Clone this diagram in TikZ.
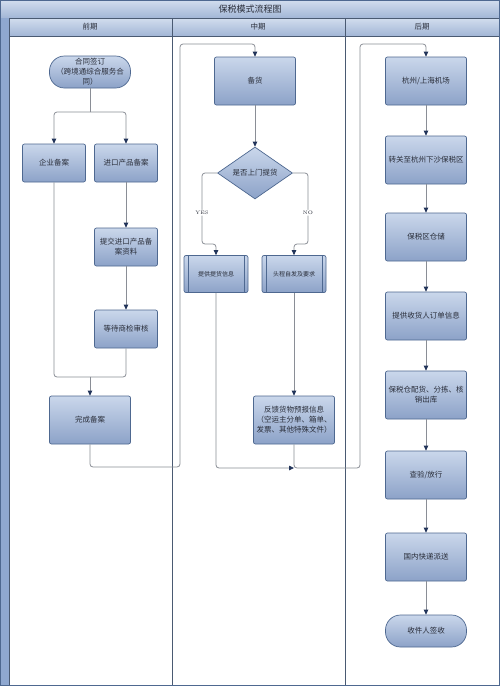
\documentclass[tikz,border=0pt]{standalone}
\usepackage{fontspec}
\newfontfamily\cjk{Noto Sans CJK SC}
\usetikzlibrary{shapes.geometric,arrows.meta}

\definecolor{boxtop}{HTML}{CAD7EB}
\definecolor{boxbot}{HTML}{8CA2C8}
\definecolor{boxline}{HTML}{4E6890}
\definecolor{headtop}{HTML}{D2DDEE}
\definecolor{headbot}{HTML}{A2B6D6}
\definecolor{stripc}{HTML}{8FA8D0}
\definecolor{framec}{HTML}{4A5A72}
\definecolor{linkc}{HTML}{8A8E96}
\definecolor{tipc}{HTML}{22345A}
\definecolor{textc}{HTML}{2A2E3A}

\tikzset{
    box/.style={rectangle, rounded corners=2pt, draw=boxline, line width=0.7pt,
        top color=boxtop, bottom color=boxbot, text=textc, align=center,
        font=\cjk\fontsize{7.5}{10}\selectfont, inner sep=1pt},
    proc/.style={box, minimum width=81pt, minimum height=48pt},
    small/.style={box, minimum width=63pt, minimum height=38pt},
    term/.style={box, rounded corners=15pt, minimum width=81pt, minimum height=32pt},
    sub/.style={box, minimum width=64pt, minimum height=37pt,
        font=\cjk\fontsize{6}{8}\selectfont,
        path picture={
            \draw[boxline, line width=0.6pt]
                ([xshift=4pt]path picture bounding box.north west) --
                ([xshift=4pt]path picture bounding box.south west);
            \draw[boxline, line width=0.6pt]
                ([xshift=-4pt]path picture bounding box.north east) --
                ([xshift=-4pt]path picture bounding box.south east);
        }},
    decide/.style={diamond, draw=boxline, line width=0.7pt, top color=boxtop,
        bottom color=boxbot, text=textc, font=\cjk\fontsize{7.5}{10}\selectfont,
        minimum width=75pt, minimum height=48pt, inner sep=0pt},
    link/.style={draw=linkc, line width=0.8pt, rounded corners=3pt},
    arr/.style={link, -{Triangle[length=5pt,width=4.5pt,color=tipc]}},
    tag/.style={fill=white, inner sep=1pt, text=textc, font=\fontsize{5}{6}\selectfont},
    headcell/.style={draw=framec, line width=0.6pt, top color=headtop, bottom color=headbot},
}

\begin{document}
\begin{tikzpicture}[x=1pt, y=-1pt]
    \useasboundingbox (0,0) rectangle (500,686);

    % Swimlane frame
    \fill[white] (0,0) rectangle (499,685);
    \draw[headcell] (0,0) rectangle (499,18);
    \fill[stripc] (0,18) rectangle (9,685);
    \draw[headcell] (9,18) rectangle (172,36);
    \draw[headcell] (172,18) rectangle (345,36);
    \draw[headcell] (345,18) rectangle (499,36);
    \draw[framec, line width=0.7pt] (9,18) -- (9,685);
    \draw[framec, line width=0.7pt] (172,36) -- (172,685);
    \draw[framec, line width=0.7pt] (345,36) -- (345,685);
    \draw[boxline, line width=1pt] (0,0) rectangle (499,685);

    % Titles
    \node[font=\cjk\fontsize{9}{10}\selectfont, text=textc] (title) at (250,9) {保税模式流程图};
    \node[font=\cjk\fontsize{7.5}{9}\selectfont, text=textc] (lane1) at (90,27) {前期};
    \node[font=\cjk\fontsize{7.5}{9}\selectfont, text=textc] (lane2) at (258,27) {中期};
    \node[font=\cjk\fontsize{7.5}{9}\selectfont, text=textc] (lane3) at (422,27) {后期};

    % Early stage
    \node[term] (contract) at (90,72) {合同签订\\（跨境通综合服务合\\同）};
    \node[small] (firm) at (54,163) {企业备案};
    \node[small] (prod) at (126,163) {进口产品备案};
    \node[small] (submit) at (126,247) {提交进口产品备\\案资料};
    \node[small] (wait) at (126,329) {等待商检审核};
    \node[proc] (done) at (90,420) {完成备案};

    % Middle stage
    \node[proc] (stock) at (255,81) {备货};
    \node[decide] (ask) at (255,173) {是否上门提货};
    \node[sub] (pickup) at (216,274) {提供提货信息};
    \node[sub] (self) at (294,274) {头程自发及要求};
    \node[proc] (feedback) at (294,420) {反馈货物预报信息\\（空运主分单、箱单、\\发票、其他特殊文件）};

    % Late stage
    \node[proc] (airport) at (426,81) {杭州/上海机场};
    \node[proc] (transfer) at (426,160) {转关至杭州下沙保税区};
    \node[proc] (store) at (426,237) {保税区仓储};
    \node[proc] (order) at (426,316) {提供收货人订单信息};
    \node[proc] (pick) at (426,395) {保税仓配货、分拣、核\\销出库};
    \node[proc] (check) at (426,475) {查验/放行};
    \node[proc] (deliver) at (426,557) {国内快递派送};
    \node[term] (sign) at (426,631) {收件人签收};

    % Bend points
    \coordinate (split) at (90,112);
    \coordinate (merge) at (90,377);
    \coordinate (up1) at (180,467);
    \coordinate (top1) at (180,44);
    \coordinate (yesbend) at (202,244);
    \coordinate (nobend) at (308,244);
    \coordinate (join) at (294,468);
    \coordinate (up2) at (360,468);
    \coordinate (top2) at (360,44);

    % Early connectors
    \draw[link] (contract) -- (split);
    \draw[arr] (split) -| (firm);
    \draw[arr] (split) -| (prod);
    \draw[arr] (prod) -- (submit);
    \draw[arr] (submit) -- (wait);
    \draw[link] (firm.south) |- (merge);
    \draw[link] (wait.south) |- (merge);
    \draw[arr] (merge) -- (done);
    \draw[arr] (done.south) |- (up1) -- (top1) -| (stock.north);

    % Middle connectors
    \draw[arr] (stock) -- (ask);
    \draw[arr] (ask.west) -| node[tag, pos=0.78] {YES} (yesbend) -| (pickup.north);
    \draw[arr] (ask.east) -| node[tag, pos=0.78] {NO} (nobend) -| (self.north);
    \draw[arr] (self) -- (feedback);
    \draw[arr] (pickup.south) |- (join);
    \draw[arr] (feedback.south) -- (join) -- (up2) -- (top2) -| (airport.north);

    % Late connectors
    \draw[arr] (airport) -- (transfer);
    \draw[arr] (transfer) -- (store);
    \draw[arr] (store) -- (order);
    \draw[arr] (order) -- (pick);
    \draw[arr] (pick) -- (check);
    \draw[arr] (check) -- (deliver);
    \draw[arr] (deliver) -- (sign);
\end{tikzpicture}
\end{document}
